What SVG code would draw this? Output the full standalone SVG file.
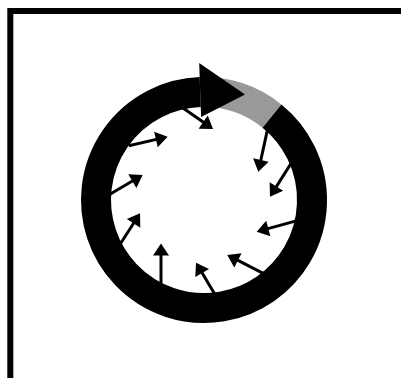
<svg xmlns="http://www.w3.org/2000/svg" width="401" height="378" viewBox="0 0 401 378">
  <style>
    .frame { fill: none; stroke: #000; stroke-width: 6; }
    .ring { fill: none; stroke-width: 30; stroke-linecap: butt; }
    .arrow { stroke: #000; stroke-width: 3; fill: none; marker-end: url(#head); }
  </style>
  <defs>
    <marker id="head" markerUnits="userSpaceOnUse" markerWidth="13" markerHeight="16" refX="6" refY="8" orient="auto" overflow="visible">
      <path d="M0,0 L12,8 L0,16 Z" fill="#000"/>
    </marker>
  </defs>
  <rect width="401" height="378" fill="#fff"/>
  <path class="frame" d="M10.3,378 V11 H401"/>
  <g id="connectors">
    <line class="arrow" x1="180.5" y1="106.3" x2="208.1" y2="125.6"/>
    <line class="arrow" x1="128.8" y1="145.7" x2="161.8" y2="138.1"/>
    <line class="arrow" x1="109.1" y1="194.8" x2="137.5" y2="178.0"/>
    <line class="arrow" x1="120.1" y1="244.2" x2="136.8" y2="218.3"/>
    <line class="arrow" x1="161" y1="285" x2="161" y2="249.5"/>
    <line class="arrow" x1="214.8" y1="294.3" x2="199.1" y2="267.8"/>
    <line class="arrow" x1="262.7" y1="273.1" x2="232.6" y2="257.7"/>
    <line class="arrow" x1="296.2" y1="220.9" x2="262.5" y2="230.1"/>
    <line class="arrow" x1="291.6" y1="162.5" x2="273.2" y2="191.6"/>
    <line class="arrow" x1="267.3" y1="130.4" x2="259.6" y2="165.8"/>
  </g>
  <g id="cycle">
    <path class="ring" stroke="#999999" d="M200.23,92.07 A108,108 0 0,1 271.97,116.07"/>
    <path class="ring" stroke="#000" d="M271.97,116.07 A108,108 0 1,1 200.23,92.07"/>
    <polygon points="199.2,63.1 245,94.5 201.1,117.05" fill="#000"/>
  </g>
</svg>
